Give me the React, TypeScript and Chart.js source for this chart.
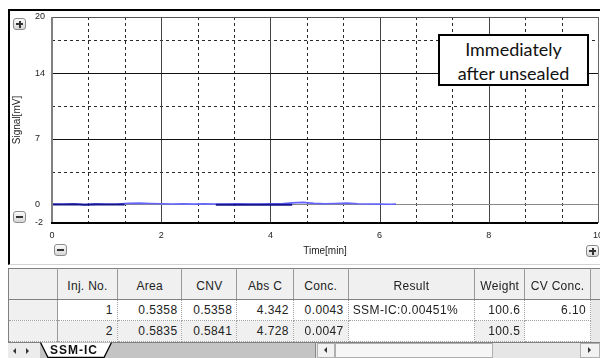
import React, { useEffect, useRef } from "react";
import { Chart, registerables } from "chart.js";

Chart.register(...registerables);

// ---- chart data ----
const timeLight = [0, 0.2, 0.4, 0.6, 0.8, 1.0, 1.2, 1.4, 1.6, 1.8, 2.0, 2.2, 2.4, 2.6, 2.8, 3.0, 3.2, 3.4, 3.6, 3.8, 4.0, 4.2, 4.4, 4.6, 4.8, 5.0, 5.2, 5.4, 5.6, 5.8, 6.0, 6.2, 6.3];
const signalLight = [0.02, 0.0, 0.03, -0.02, 0.04, 0.01, 0.03, 0.1, 0.12, 0.08, 0.05, 0.03, 0.06, 0.02, 0.04, 0.03, 0.02, 0.05, 0.03, 0.02, 0.04, 0.06, 0.15, 0.2, 0.1, 0.05, 0.08, 0.12, 0.05, 0.03, 0.02, 0.01, 0.02];
const timeDark = [0, 0.2, 0.4, 0.6, 0.8, 1.0, 1.2, 1.33, 2.0, 3.0, 3.2, 3.4, 3.6, 3.8, 4.0, 4.2, 4.4];
const signalDark = [-0.02, -0.03, -0.01, -0.04, -0.02, -0.03, -0.02, -0.03, null, -0.05, -0.06, -0.04, -0.05, -0.06, -0.05, -0.04, -0.05];

const xMin = 0;
const xMax = 10;
const xStep = 2;
const yMin = -2;
const yMax = 20;
const yTickValues = [-2, 0, 7, 14, 20];
const yMajorGrid = [0, 7, 14];
const yMinorGrid = [3.5, 10.5, 17.5];
const xMajorGrid = [2, 4, 6, 8];
const xMinorGrid = [0.667, 1.333, 2.667, 3.333, 4.667, 5.333, 6.667, 7.333, 8.667, 9.333];

const yTitle = "Signal[mV]";
const xTitle = "Time[min]";
const noteLines = ["Immediately", "after unsealed"];

// ---- table data ----
const tableHeaders = ["", "Inj. No.", "Area", "CNV", "Abs C", "Conc.", "Result", "Weight", "CV Conc."];
const tableRow1 = ["", "1", "0.5358", "0.5358", "4.342", "0.0043", "SSM-IC:0.00451%", "100.6", "6.10"];
const tableRow2 = ["", "2", "0.5835", "0.5841", "4.728", "0.0047", "", "100.5", ""];
const sheetTab = "SSM-IC";

const colWidths = [50, 60, 65, 55, 57, 55, 127, 50, 66];

const gridPlugin = {
  id: "customGrid",
  beforeDatasetsDraw(chart: any) {
    const { ctx, chartArea: a, scales } = chart;
    const x = scales.x;
    const y = scales.y;
    ctx.save();
    ctx.lineWidth = 1;
    ctx.setLineDash([3, 3]);
    ctx.strokeStyle = "#2a2a2a";
    for (const v of xMinorGrid) {
      const px = Math.round(x.getPixelForValue(v)) + 0.5;
      ctx.beginPath(); ctx.moveTo(px, a.top); ctx.lineTo(px, a.bottom); ctx.stroke();
    }
    for (const v of yMinorGrid) {
      const py = Math.round(y.getPixelForValue(v)) + 0.5;
      ctx.beginPath(); ctx.moveTo(a.left, py); ctx.lineTo(a.right, py); ctx.stroke();
    }
    ctx.setLineDash([]);
    ctx.strokeStyle = "#444";
    for (const v of xMajorGrid) {
      const px = Math.round(x.getPixelForValue(v)) + 0.5;
      ctx.beginPath(); ctx.moveTo(px, a.top); ctx.lineTo(px, a.bottom); ctx.stroke();
    }
    for (const v of yMajorGrid) {
      const py = Math.round(y.getPixelForValue(v)) + 0.5;
      ctx.strokeStyle = v === 0 ? "#888" : "#111";
      ctx.beginPath(); ctx.moveTo(a.left, py); ctx.lineTo(a.right, py); ctx.stroke();
    }
    ctx.restore();
  },
  afterDatasetsDraw(chart: any) {
    const { ctx, chartArea: a } = chart;
    ctx.save();
    ctx.lineWidth = 1;
    ctx.strokeStyle = "#555";
    ctx.beginPath(); ctx.moveTo(a.left, Math.round(a.top) + 0.5); ctx.lineTo(a.right, Math.round(a.top) + 0.5); ctx.stroke();
    ctx.strokeStyle = "#666";
    ctx.beginPath(); ctx.moveTo(Math.round(a.right) + 0.5, a.top); ctx.lineTo(Math.round(a.right) + 0.5, a.bottom); ctx.stroke();
    ctx.lineWidth = 2;
    ctx.strokeStyle = "#808080";
    ctx.beginPath(); ctx.moveTo(Math.round(a.left), a.top); ctx.lineTo(Math.round(a.left), a.bottom + 1); ctx.stroke();
    ctx.strokeStyle = "#000";
    ctx.beginPath(); ctx.moveTo(a.left - 1, Math.round(a.bottom)); ctx.lineTo(a.right, Math.round(a.bottom)); ctx.stroke();
    ctx.fillStyle = "#222";
    ctx.font = '10px "Liberation Sans", Arial, sans-serif';
    ctx.textAlign = "center";
    ctx.textBaseline = "middle";
    ctx.fillText(xTitle, (a.left + a.right) / 2, a.bottom + 28);
    ctx.translate(7, (a.top + a.bottom) / 2);
    ctx.rotate(-Math.PI / 2);
    ctx.fillText(yTitle, 0, 0);
    ctx.restore();
  },
};

function ChartCanvas() {
  const ref = useRef<HTMLCanvasElement | null>(null);
  useEffect(() => {
    if (!ref.current) return;
    const lightData = timeLight.map((t, i) => ({ x: t, y: signalLight[i] }));
    const darkData = timeDark.map((t, i) => ({ x: t, y: signalDark[i] }));
    const chart = new Chart(ref.current, {
      type: "line",
      data: {
        datasets: [
          {
            data: darkData as any,
            borderColor: "rgb(20,20,140)",
            borderWidth: 2,
            pointRadius: 0,
            spanGaps: false,
            tension: 0,
          },
          {
            data: lightData as any,
            borderColor: "rgb(100,100,255)",
            borderWidth: 1.6,
            pointRadius: 0,
            tension: 0,
          },
        ],
      },
      options: {
        animation: false,
        responsive: false,
        events: [],
        layout: { padding: { left: 25, top: 6, right: 52, bottom: 0 } },
        plugins: { legend: { display: false }, tooltip: { enabled: false } },
        scales: {
          x: {
            type: "linear",
            min: xMin,
            max: xMax,
            grid: { display: false, drawTicks: false },
            border: { display: false },
            ticks: {
              stepSize: xStep,
              padding: 7,
              maxRotation: 0,
              color: "#222",
              font: { family: '"Liberation Sans", Arial, sans-serif', size: 9 },
            },
            afterFit: (s: any) => { s.height = 40; },
          },
          y: {
            type: "linear",
            min: yMin,
            max: yMax,
            grid: { display: false, drawTicks: false },
            border: { display: false },
            afterBuildTicks: (s: any) => { s.ticks = yTickValues.map((v) => ({ value: v })); },
            ticks: {
              crossAlign: "far",
              padding: 0,
              color: "#222",
              font: { family: '"Liberation Sans", Arial, sans-serif', size: 9 },
              callback: (v: any) => String(v),
            },
            afterFit: (s: any) => { s.width = 17; },
          },
        },
      },
      plugins: [gridPlugin],
    });
    return () => chart.destroy();
  }, []);
  return <canvas ref={ref} width={640} height={252} style={{ position: "absolute", left: 2, top: 3, width: 640, height: 252 }} />;
}

function ZoomBtn({ x, y, plus }: { x: number; y: number; plus: boolean }) {
  return (
    <div style={{ position: "absolute", left: x, top: y, width: 13, height: 12, boxSizing: "border-box", border: "1px solid #8c8c8c", borderRadius: 3, background: "linear-gradient(#fbfbfb, #d6d6d6)" }}>
      <div style={{ position: "absolute", left: 2, top: 4, width: 7, height: 2, background: "#333" }} />
      {plus && <div style={{ position: "absolute", left: 4.5, top: 1.5, width: 2, height: 7, background: "#333" }} />}
    </div>
  );
}

function Arrow({ x, y, dir }: { x: number; y: number; dir: "l" | "r" }) {
  const style: any = { position: "absolute", left: x, top: y, width: 0, height: 0, borderTop: "3px solid transparent", borderBottom: "3px solid transparent" };
  if (dir === "l") style.borderRight = "3px solid #333"; else style.borderLeft = "3px solid #333";
  return <div style={style} />;
}

export default function App() {
  const font = '"Liberation Sans", Arial, sans-serif';
  const headCell = (i: number): any => ({
    width: colWidths[i], height: 31, boxSizing: "border-box", background: "#f0f0f0",
    borderRight: "1px solid #9a9a9a", borderBottom: "1px solid #808080", borderTop: "1px solid #808080",
    textAlign: "center", verticalAlign: "middle", paddingTop: 4, fontSize: 12, letterSpacing: 0.3, color: "#222", whiteSpace: "nowrap", overflow: "hidden",
  });
  const bodyCell = (i: number, v: string, rowIdx: number): any => {
    const gray = i === 0 || (rowIdx === 1 && v !== "");
    return {
      width: colWidths[i], height: 21, boxSizing: "border-box",
      background: gray ? "#f0f0f0" : "#fff",
      borderRight: i === 0 ? "1px solid #9a9a9a" : "1px dotted #a0a0a0", borderBottom: "1px dotted #a0a0a0",
      textAlign: i === 6 ? "left" : "right", paddingRight: i === 6 ? 0 : 4, paddingLeft: i === 6 ? 4 : 0,
      fontSize: 12, letterSpacing: 0.4, color: "#222", whiteSpace: "nowrap", overflow: "hidden", verticalAlign: "middle",
    };
  };
  const rows = [tableRow1, tableRow2];
  return (
    <div style={{ position: "fixed", left: 0, top: 0, width: 600, height: 358, overflow: "hidden", background: "#fff" }}>
    <div style={{ position: "absolute", left: 8, top: 8, width: 592, height: 350, overflow: "hidden", fontFamily: font, background: "#fff" }}>
      <div style={{ position: "absolute", left: 0, top: 1, width: 600, height: 256, boxSizing: "border-box", borderTop: "2px solid #000", borderLeft: "2px solid #000", borderBottom: "1px solid #d4d4d4", background: "#fff" }} />
      <ChartCanvas />
      <div style={{ position: "absolute", left: 430, top: 26, width: 151, height: 52, boxSizing: "border-box", border: "2px solid #000", background: "#fff", textAlign: "center", fontFamily: 'Lato, "Open Sans", sans-serif', fontSize: 18, lineHeight: "24px", paddingTop: 1, color: "#111" }}>
        {noteLines.map((l, i) => <div key={i}>{l}</div>)}
      </div>
      <ZoomBtn x={5} y={10} plus={true} />
      <ZoomBtn x={5} y={203} plus={false} />
      <ZoomBtn x={46} y={236} plus={false} />
      <ZoomBtn x={578} y={237} plus={true} />

      <table style={{ position: "absolute", left: 0, top: 260, borderCollapse: "collapse", tableLayout: "fixed", fontFamily: font, borderLeft: "1px solid #808080" }}>
        <tbody>
          <tr>
            {tableHeaders.map((h, i) => <td key={i} style={headCell(i)}>{h}</td>)}
            <td style={{ width: 7, background: "#ececec", borderTop: "1px solid #808080", borderBottom: "1px solid #808080" }} />
          </tr>
          {rows.map((r, ri) => (
            <tr key={ri}>
              {r.map((v, i) => <td key={i} style={bodyCell(i, v, ri)}>{v}</td>)}
              <td style={{ width: 7, background: "#e8e8e8" }} />
            </tr>
          ))}
        </tbody>
      </table>

      <div style={{ position: "absolute", left: 0, top: 334, width: 592, height: 16, background: "#c4c4c4", borderTop: "1px solid #808080", boxSizing: "border-box" }}>
        <div style={{ position: "absolute", left: 0, top: 0, width: 32, height: 15, background: "#ececec" }} />
        <Arrow x={5} y={5} dir="l" />
        <Arrow x={18} y={5} dir="r" />
        <svg style={{ position: "absolute", left: 32, top: -1 }} width={74} height={17}>
          <polygon points="0,0.5 8,15.5 64,15.5 72,0.5" fill="#fff" stroke="none" />
          <polyline points="0.5,0.5 8,15.5 64,15.5 71.5,0.5" fill="none" stroke="#000" strokeWidth={1.3} />
        </svg>
        <div style={{ position: "absolute", left: 42, top: 0, fontSize: 12, fontWeight: "bold", letterSpacing: 1, lineHeight: "15px", color: "#111" }}>{sheetTab}</div>
        <div style={{ position: "absolute", left: 307, top: 0, width: 285, height: 15, background: "#e6e6e6", borderLeft: "1px solid #888" }} />
        <div style={{ position: "absolute", left: 309, top: 0, width: 18, height: 15, boxSizing: "border-box", background: "#f2f2f2", border: "1px solid #b0b0b0" }} />
        <Arrow x={316} y={4} dir="l" />
        <div style={{ position: "absolute", left: 327, top: 0, width: 158, height: 15, boxSizing: "border-box", background: "#f6f6f6", border: "1px solid #b0b0b0" }} />
        <div style={{ position: "absolute", left: 572, top: 0, width: 20, height: 15, boxSizing: "border-box", background: "#f2f2f2", border: "1px solid #b0b0b0" }} />
        <Arrow x={580} y={4} dir="r" />
      </div>
    </div>
    </div>
  );
}
